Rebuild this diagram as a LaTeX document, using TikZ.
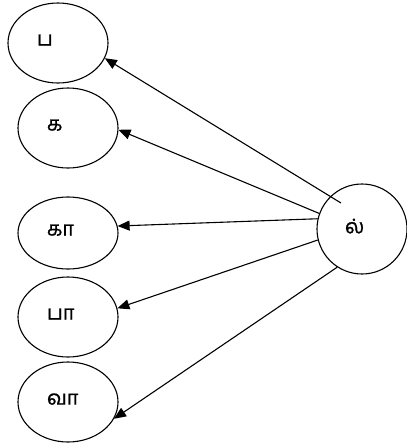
\documentclass[tikz,border=0pt]{standalone}
\usepackage{fontspec}
\newfontfamily\tamilfont[Script=Tamil, FakeBold=1]{Hind Madurai}
\usetikzlibrary{shapes.geometric, arrows.meta}

\begin{document}
\begin{tikzpicture}[x=1pt, y=-1pt,
        letter/.style = {draw, ellipse, line width=1.1pt, inner sep=0pt, text width=42pt, align=left,
                         text depth=6pt, minimum width=100pt, minimum height=80pt,
                         font=\tamilfont\fontsize{20}{22}\selectfont},
        arr/.style = {line width=1.1pt, -{Triangle[length=12pt, width=10pt]}}]
            \useasboundingbox (0,0) rectangle (407,445);
            \node[letter] (pa) at (58,43) {ப};
            \node[letter] (ka) at (68,128) {க};
            \node[letter, minimum height=72pt] (kaa) at (68,233) {கா};
            \node[letter] (paa) at (68,317) {பா};
            \node[letter] (vaa) at (68,402) {வா};
            \node[letter, text width=34pt, minimum width=90pt, minimum height=90pt] (l) at (362,229) {ல்};
            \coordinate (s) at (341,203);
            \draw[arr] (s) -- (pa.-18);
            \draw[arr] (l.160) -- (ka.-2);
            \draw[arr] (l.167) -- (kaa.8);
            \draw[arr] (l.194) -- (paa.10);
            \draw[arr] (l.237) -- (vaa.-20);
        \end{tikzpicture}
\end{document}
